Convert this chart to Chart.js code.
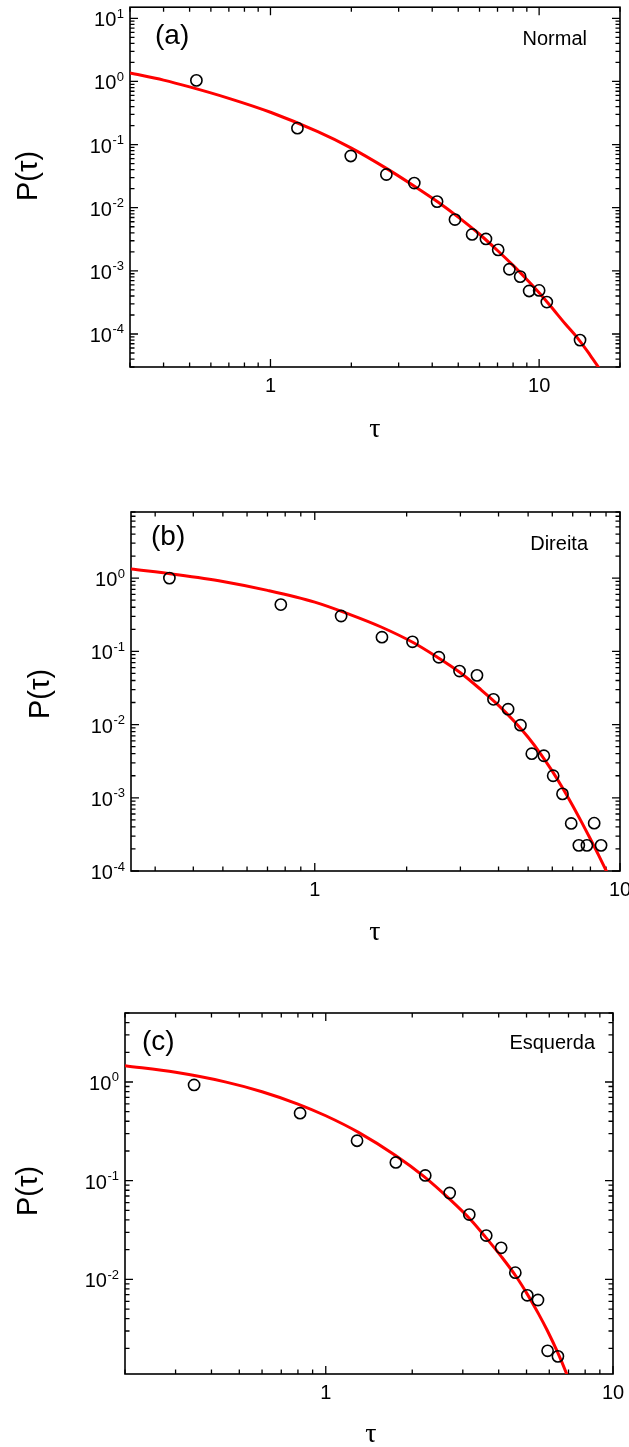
<!DOCTYPE html>
<html>
<head>
<meta charset="utf-8">
<title>P(τ)</title>
<script src="https://cdn.jsdelivr.net/npm/chart.js@4.4.1/dist/chart.umd.min.js"></script>
<style>
  body { margin: 0; background: #fff; }
  #page { position: relative; width: 629px; height: 1447px; overflow: hidden; background: #fff; }
  canvas { position: absolute; left: 0; }
</style>
</head>
<body>
<div id="page">
  <canvas id="chartA" width="629" height="470" style="top:0px"></canvas>
  <canvas id="chartB" width="629" height="500" style="top:470px"></canvas>
  <canvas id="chartC" width="629" height="477" style="top:970px"></canvas>
</div>
<script>
// (a) Normal - measured waiting times and fitted curve
const tauA = [0.53, 1.26, 1.99, 2.70, 3.43, 4.17, 4.86, 5.63, 6.34, 7.04, 7.75, 8.50, 9.18, 10.0, 10.68, 14.2];
const probA = [1.04, 0.182, 0.066, 0.0336, 0.0246, 0.0125, 0.0065, 0.00377, 0.0032, 0.00215, 0.00106, 0.00081, 0.00048, 0.00049, 0.00032, 0.000080];
const fitTauA = [0.3, 0.4, 0.5, 0.7, 1.0, 1.5, 2.0, 2.7, 3.4, 4.2, 5.0, 6.0, 7.0, 8.0, 9.0, 10.0, 11.0, 12.5, 14.0, 15.5, 16.8];
const fitProbA = [1.36, 1.05, 0.82, 0.54, 0.325, 0.16, 0.088, 0.042, 0.0225, 0.0123, 0.0071, 0.0038, 0.0021, 0.00122, 0.00073, 0.00045, 0.00028, 0.000145, 0.000083, 0.000046, 0.000028];

// (b) Direita
const tauB = [0.334, 0.774, 1.22, 1.66, 2.09, 2.55, 2.98, 3.40, 3.85, 4.30, 4.72, 5.14, 5.63, 6.04, 6.48, 6.92, 7.33, 7.79, 8.23, 8.67];
const probB = [1.0, 0.435, 0.304, 0.156, 0.135, 0.083, 0.0538, 0.047, 0.0221, 0.0162, 0.0098, 0.0040, 0.00375, 0.0020, 0.00113, 0.000446, 0.000224, 0.000224, 0.00045, 0.000224];
const fitTauB = [0.25, 0.35, 0.5, 0.7, 1.0, 1.3, 1.65, 2.1, 2.5, 3.0, 3.5, 4.0, 4.5, 5.0, 5.5, 6.0, 6.5, 7.0, 7.5, 8.0, 8.5, 9.3];
const fitProbB = [1.33, 1.12, 0.90, 0.68, 0.47, 0.32, 0.215, 0.132, 0.085, 0.051, 0.030, 0.0183, 0.0111, 0.0067, 0.00396, 0.00231, 0.00134, 0.00078, 0.000458, 0.000274, 0.000166, 0.000077];

// (c) Esquerda
const tauC = [0.348, 0.814, 1.285, 1.754, 2.22, 2.70, 3.16, 3.62, 4.08, 4.57, 5.03, 5.48, 5.92, 6.43];
const probC = [0.933, 0.483, 0.254, 0.153, 0.113, 0.075, 0.0454, 0.0278, 0.0209, 0.0117, 0.0069, 0.00618, 0.00189, 0.00166];
const fitTauC = [0.2, 0.3, 0.45, 0.6, 0.8, 1.0, 1.3, 1.75, 2.2, 2.7, 3.2, 3.6, 4.1, 4.6, 5.0, 5.5, 5.9, 6.4, 6.9, 7.1];
const fitProbC = [1.46, 1.252, 0.997, 0.797, 0.598, 0.455, 0.309, 0.180, 0.110, 0.065, 0.040, 0.0268, 0.0168, 0.0107, 0.0073, 0.0045, 0.00305, 0.00185, 0.0011, 0.00088];

// tick labels (powers of ten on y, plain numbers on x)
const yExpA = [1, 0, -1, -2, -3, -4];
const yExpB = [0, -1, -2, -3, -4];
const yExpC = [0, -1, -2];
const xTickLabels = [1, 10];

const SANS = 'Arial, "Liberation Sans", sans-serif';

// minor/major positions of a log axis between min and max
function logTicks(min, max) {
    const out = [];
    for (let d = Math.floor(Math.log10(min)); d <= Math.ceil(Math.log10(max)); d++) {
        for (let m = 1; m <= 9; m++) {
            const v = m * Math.pow(10, d);
            if (v >= min * 0.999 && v <= max * 1.001) out.push({ v: v, major: m === 1 });
        }
    }
    return out;
}

function toPoints(xs, ys) {
    return xs.map((x, i) => ({ x: x, y: ys[i] }));
}

// frame, inward ticks on all four sides, labels and titles
const frameAxes = {
    id: 'frameAxes',
    beforeDatasetsDraw(chart, args, opts) {
        const ctx = chart.ctx;
        const area = chart.chartArea;
        const xs = chart.scales.x;
        const ys = chart.scales.y;

        ctx.save();
        ctx.strokeStyle = '#000';
        ctx.lineWidth = 1.3;
        ctx.beginPath();
        logTicks(xs.min, xs.max).forEach(t => {
            const px = xs.getPixelForValue(t.v);
            const len = t.major ? 8 : 4.5;
            ctx.moveTo(px, area.bottom);
            ctx.lineTo(px, area.bottom - len);
            ctx.moveTo(px, area.top);
            ctx.lineTo(px, area.top + len);
        });
        logTicks(ys.min, ys.max).forEach(t => {
            const py = ys.getPixelForValue(t.v);
            const len = t.major ? 8 : 4.5;
            ctx.moveTo(area.left, py);
            ctx.lineTo(area.left + len, py);
            ctx.moveTo(area.right, py);
            ctx.lineTo(area.right - len, py);
        });
        ctx.stroke();

        ctx.lineWidth = 1.6;
        ctx.strokeRect(area.left, area.top, area.right - area.left, area.bottom - area.top);
        ctx.restore();
    },
    afterDraw(chart, args, opts) {
        const ctx = chart.ctx;
        const area = chart.chartArea;
        const xs = chart.scales.x;
        const ys = chart.scales.y;

        ctx.save();
        ctx.fillStyle = '#000';

        // y tick labels: 10 with a raised exponent
        opts.yExp.forEach(e => {
            const py = ys.getPixelForValue(Math.pow(10, e));
            const sup = e < 0 ? '-' + (-e) : String(e);
            ctx.font = '13px ' + SANS;
            const wSup = ctx.measureText(sup).width;
            ctx.font = '20px ' + SANS;
            const wBase = ctx.measureText('10').width;
            const right = area.left - 6;
            ctx.textAlign = 'left';
            ctx.textBaseline = 'alphabetic';
            ctx.fillText('10', right - wSup - wBase - 0.5, py + 8);
            ctx.font = '13px ' + SANS;
            ctx.fillText(sup, right - wSup, py - 0.5);
        });

        // x tick labels
        ctx.font = '20px ' + SANS;
        ctx.textAlign = 'center';
        opts.xLabels.forEach(v => {
            ctx.fillText(String(v), xs.getPixelForValue(v), area.bottom + 25);
        });

        // x axis title
        ctx.font = '28px "Liberation Serif", "Times New Roman", serif';
        ctx.fillText('τ', opts.xTitle[0], opts.xTitle[1] + 7);

        // y axis title, rotated
        ctx.save();
        ctx.translate(opts.yTitle[0], opts.yTitle[1]);
        ctx.rotate(-Math.PI / 2);
        ctx.font = '29px ' + SANS;
        ctx.textBaseline = 'middle';
        ctx.fillText('P(τ)', 0, 1);
        ctx.restore();

        // panel letter and group name
        ctx.textAlign = 'left';
        ctx.font = '28px ' + SANS;
        ctx.fillText(opts.panel, opts.panelPos[0], opts.panelPos[1]);
        ctx.textAlign = 'right';
        ctx.font = '20px ' + SANS;
        ctx.fillText(opts.note, opts.notePos[0], opts.notePos[1]);
        ctx.restore();
    }
};

function makePanel(canvasId, setup) {
    return new Chart(document.getElementById(canvasId), {
        type: 'scatter',
        data: {
            datasets: [{
                label: 'dados',
                data: toPoints(setup.tau, setup.prob),
                showLine: false,
                pointRadius: 5.6,
                pointHoverRadius: 5.6,
                pointBorderWidth: 1.6,
                pointBorderColor: '#000',
                pointBackgroundColor: 'rgba(0,0,0,0)',
                clip: false
            }, {
                label: 'ajuste',
                data: toPoints(setup.fitTau, setup.fitProb),
                showLine: true,
                borderColor: '#ff0000',
                borderWidth: 3,
                pointRadius: 0,
                cubicInterpolationMode: 'monotone',
                clip: 0
            }]
        },
        options: {
            responsive: false,
            animation: false,
            events: [],
            layout: { padding: setup.padding },
            scales: {
                x: { type: 'logarithmic', min: setup.xRange[0], max: setup.xRange[1], display: false },
                y: { type: 'logarithmic', min: setup.yRange[0], max: setup.yRange[1], display: false }
            },
            plugins: {
                legend: { display: false },
                tooltip: { enabled: false },
                frameAxes: {
                    yExp: setup.yExp,
                    xLabels: xTickLabels,
                    xTitle: setup.xTitle,
                    yTitle: setup.yTitle,
                    panel: setup.panel,
                    panelPos: setup.panelPos,
                    note: setup.note,
                    notePos: setup.notePos
                }
            }
        },
        plugins: [frameAxes]
    });
}

makePanel('chartA', {
    tau: tauA, prob: probA, fitTau: fitTauA, fitProb: fitProbA,
    xRange: [0.3, 20], yRange: [3e-5, 15], yExp: yExpA,
    padding: { left: 130, right: 9, top: 7, bottom: 103 },
    xTitle: [375, 430], yTitle: [28, 176],
    panel: '(a)', panelPos: [155, 44], note: 'Normal', notePos: [587, 45]
});

makePanel('chartB', {
    tau: tauB, prob: probB, fitTau: fitTauB, fitProb: fitProbB,
    xRange: [0.25, 10], yRange: [1e-4, 8], yExp: yExpB,
    padding: { left: 131, right: 9, top: 42, bottom: 99 },
    xTitle: [375, 463], yTitle: [40, 224],
    panel: '(b)', panelPos: [151, 75], note: 'Direita', notePos: [588, 80]
});

makePanel('chartC', {
    tau: tauC, prob: probC, fitTau: fitTauC, fitProb: fitProbC,
    xRange: [0.2, 10], yRange: [1.1e-3, 5], yExp: yExpC,
    padding: { left: 125, right: 16, top: 43, bottom: 73 },
    xTitle: [371, 465], yTitle: [28, 221],
    panel: '(c)', panelPos: [142, 80], note: 'Esquerda', notePos: [595, 79]
});
</script>
</body>
</html>
